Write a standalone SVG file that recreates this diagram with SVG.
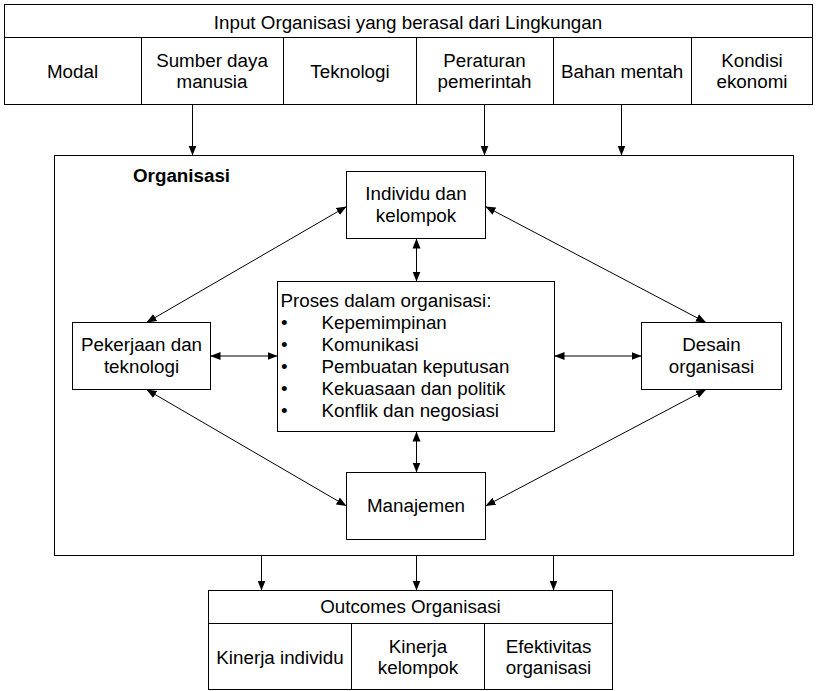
<svg xmlns="http://www.w3.org/2000/svg" width="818" height="691" viewBox="0 0 818 691">
<style>
text{font-family:"Liberation Sans",Arial,sans-serif;font-size:18.8px;fill:#000}
.c{text-anchor:middle}
.b{font-weight:bold}
.box rect,.box line{fill:#fff;stroke:#000;stroke-width:1}
.con line{stroke:#000;stroke-width:1;fill:none}
.one line{marker-end:url(#ah)}
.two line{marker-start:url(#as);marker-end:url(#ah)}
</style>
<defs>
<marker id="ah" viewBox="0 0 10 10" refX="10" refY="5" markerWidth="10" markerHeight="10" markerUnits="userSpaceOnUse" orient="auto"><path d="M0,1 L10,5 L0,9 Z" fill="#000"/></marker>
<marker id="as" viewBox="0 0 10 10" refX="0" refY="5" markerWidth="10" markerHeight="10" markerUnits="userSpaceOnUse" orient="auto"><path d="M10,1 L0,5 L10,9 Z" fill="#000"/></marker>
</defs>
<rect x="0" y="0" width="818" height="691" style="fill:#fff;stroke:none"/>
<g id="input" class="box">
<rect x="4.5" y="4.5" width="808" height="100"/>
<line x1="4.5" y1="37.5" x2="812.5" y2="37.5"/>
<line x1="141.5" y1="37.5" x2="141.5" y2="104.5"/>
<line x1="283.5" y1="37.5" x2="283.5" y2="104.5"/>
<line x1="416.5" y1="37.5" x2="416.5" y2="104.5"/>
<line x1="553.5" y1="37.5" x2="553.5" y2="104.5"/>
<line x1="691.5" y1="37.5" x2="691.5" y2="104.5"/>
<text class="c" x="408" y="29">Input Organisasi yang berasal dari Lingkungan</text>
<text class="c" x="72.5" y="78">Modal</text>
<text class="c" x="212" y="67">Sumber daya</text>
<text class="c" x="212" y="88">manusia</text>
<text class="c" x="350" y="78">Teknologi</text>
<text class="c" x="484.5" y="67">Peraturan</text>
<text class="c" x="484.5" y="88">pemerintah</text>
<text class="c" x="622" y="78">Bahan mentah</text>
<text class="c" x="752" y="67">Kondisi</text>
<text class="c" x="752" y="88">ekonomi</text>
</g>
<g id="organisasi" class="box">
<rect x="54.5" y="155.5" width="739" height="400"/>
<text class="b" x="133" y="182">Organisasi</text>
</g>
<g id="individu" class="box">
<rect x="346.5" y="171.5" width="139" height="67"/>
<text class="c" x="416" y="200">Individu dan</text>
<text class="c" x="416" y="222">kelompok</text>
</g>
<g id="proses" class="box">
<rect x="277.5" y="281.5" width="277" height="150"/>
<text x="280.5" y="307">Proses dalam organisasi:</text>
<text x="281" y="329">•</text><text x="321.5" y="329">Kepemimpinan</text>
<text x="281" y="351">•</text><text x="321.5" y="351">Komunikasi</text>
<text x="281" y="373">•</text><text x="321.5" y="373">Pembuatan keputusan</text>
<text x="281" y="395">•</text><text x="321.5" y="395">Kekuasaan dan politik</text>
<text x="281" y="417">•</text><text x="321.5" y="417">Konflik dan negosiasi</text>
</g>
<g id="pekerjaan" class="box">
<rect x="72.5" y="322.5" width="138" height="67"/>
<text class="c" x="141.5" y="351">Pekerjaan dan</text>
<text class="c" x="141.5" y="373">teknologi</text>
</g>
<g id="desain" class="box">
<rect x="641.5" y="322.5" width="140" height="67"/>
<text class="c" x="711.5" y="351">Desain</text>
<text class="c" x="711.5" y="373">organisasi</text>
</g>
<g id="manajemen" class="box">
<rect x="346.5" y="472.5" width="139" height="67"/>
<text class="c" x="416" y="512">Manajemen</text>
</g>
<g id="outcomes" class="box">
<rect x="208.5" y="590.5" width="404" height="99"/>
<line x1="208.5" y1="623.5" x2="612.5" y2="623.5"/>
<line x1="351.5" y1="623.5" x2="351.5" y2="689.5"/>
<line x1="484.5" y1="623.5" x2="484.5" y2="689.5"/>
<text class="c" x="410.5" y="613">Outcomes Organisasi</text>
<text class="c" x="280" y="664">Kinerja individu</text>
<text class="c" x="418" y="653">Kinerja</text>
<text class="c" x="418" y="674">kelompok</text>
<text class="c" x="548.5" y="653">Efektivitas</text>
<text class="c" x="548.5" y="674">organisasi</text>
</g>
<g id="connectors" class="con">
<g class="one">
<line x1="192.5" y1="104.5" x2="192.5" y2="155.5"/>
<line x1="484.5" y1="104.5" x2="484.5" y2="155.5"/>
<line x1="621.5" y1="104.5" x2="621.5" y2="155.5"/>
<line x1="261.5" y1="555.5" x2="261.5" y2="590.5"/>
<line x1="416.5" y1="555.5" x2="416.5" y2="590.5"/>
<line x1="553.5" y1="555.5" x2="553.5" y2="590.5"/>
</g>
<g class="two">
<line x1="416.5" y1="238.5" x2="416.5" y2="281.5"/>
<line x1="416.5" y1="431.5" x2="416.5" y2="472.5"/>
<line x1="210.5" y1="356" x2="277.5" y2="356"/>
<line x1="554.5" y1="356" x2="641.5" y2="356"/>
<line x1="346.5" y1="206.5" x2="146.5" y2="322.5"/>
<line x1="485.5" y1="206.5" x2="706" y2="322.5"/>
<line x1="146.5" y1="389.5" x2="346.5" y2="506"/>
<line x1="706" y1="389.5" x2="485.5" y2="506"/>
</g>
</g>
</svg>
